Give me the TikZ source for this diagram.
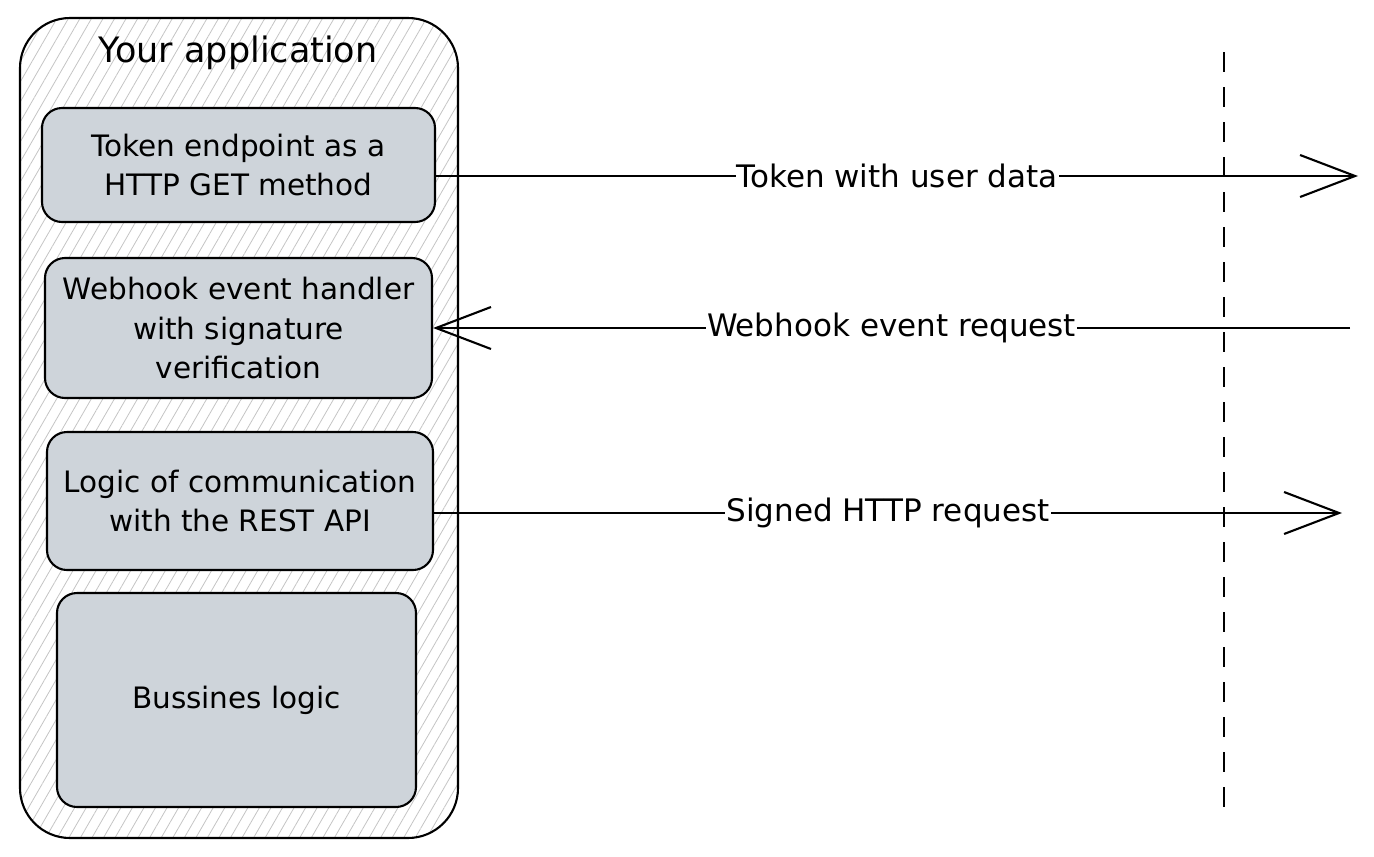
\documentclass[tikz,border=0pt]{standalone}
\usepackage{fontspec}
\setmainfont{DejaVu Sans}
\usetikzlibrary{arrows.meta, patterns.meta}
\definecolor{boxgray}{HTML}{CED4DA}
\definecolor{hatchgray}{HTML}{C4C4C4}
\tikzset{
  part/.style={rectangle, draw, rounded corners=20pt, line width=2.1pt, fill=boxgray, align=center, font=\fontsize{29.5}{39.5}\selectfont},
  msg/.style={line width=2.1pt, -{Straight Barb[length=55pt, width=42pt]}},
  msglabel/.style={fill=white, inner sep=1pt, font=\fontsize{31}{36}\selectfont},
}
\begin{document}
\begin{tikzpicture}[x=1pt, y=-1pt]
  \useasboundingbox (0,0) rectangle (1374,857);
  % Nodes
  \node (app) [rectangle, draw, rounded corners=50pt, line width=2.1pt, pattern={Lines[angle=60, distance=10pt, line width=0.8pt]}, pattern color=hatchgray, minimum width=438pt, minimum height=820pt] at (239,428) {};
  \node (title) [font=\fontsize{35}{40}\selectfont] at (238,53) {Your application};
  \node (token) [part, minimum width=393pt, minimum height=114pt] at (238.5,165) {Token endpoint as a\\HTTP GET method};
  \node (hook) [part, minimum width=387pt, minimum height=140pt] at (238.5,328) {Webhook event handler\\with signature\\verification};
  \node (comm) [part, minimum width=386pt, minimum height=138pt] at (240,501) {Logic of communication\\with the REST API};
  \node (logic) [part, minimum width=359pt, minimum height=214pt] at (236.5,700) {Bussines logic};
  \coordinate (tokenEnd) at (1358,176);
  \coordinate (hookStart) at (1350,328);
  \coordinate (signedEnd) at (1342,513);
  \coordinate (borderTop) at (1224,52);
  \coordinate (borderBottom) at (1224,820);
  % Border
  \draw[line width=2.6pt, dash pattern=on 20pt off 15pt] (borderTop) -- (borderBottom);
  % Arrow
  \draw[msg] (token.east |- tokenEnd) -- node[msglabel] {Token with user data} (tokenEnd);
  \draw[msg] (hookStart) -- node[msglabel] {Webhook event request} (hook.east |- hookStart);
  \draw[msg] (comm.east |- signedEnd) -- node[msglabel] {Signed HTTP request} (signedEnd);
\end{tikzpicture}
\end{document}
